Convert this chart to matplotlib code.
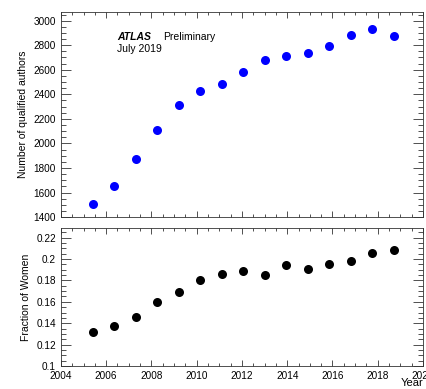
import matplotlib
matplotlib.use("Agg")
import matplotlib.pyplot as plt
from matplotlib.ticker import MultipleLocator, FuncFormatter

plt.rcParams['font.family'] = ['Liberation Sans', 'DejaVu Sans']

# data
years = [2005.4, 2006.35, 2007.3, 2008.25, 2009.2, 2010.15, 2011.1, 2012.05,
         2013.0, 2013.95, 2014.9, 2015.85, 2016.8, 2017.75, 2018.7]
authors = [1510, 1655, 1875, 2110, 2315, 2425, 2485, 2585,
           2680, 2710, 2740, 2795, 2885, 2930, 2878]
women = [0.132, 0.137, 0.146, 0.160, 0.169, 0.180, 0.186, 0.189,
         0.185, 0.194, 0.191, 0.195, 0.198, 0.206, 0.208]

fig = plt.figure(figsize=(4.26, 3.89), dpi=100)
ax1 = fig.add_axes([0.143, 0.442, 0.85, 0.527])
ax2 = fig.add_axes([0.143, 0.059, 0.85, 0.355])

def style(ax, ymaj, ymin):
    ax.set_xlim(2004, 2020)
    ax.xaxis.set_major_locator(MultipleLocator(2))
    ax.xaxis.set_minor_locator(MultipleLocator(0.5))
    ax.yaxis.set_major_locator(MultipleLocator(ymaj))
    ax.yaxis.set_minor_locator(MultipleLocator(ymin))
    ax.tick_params(axis='both', which='both', direction='in', top=True, right=True,
                   labelsize=7.2, width=0.6, color='#333333')
    ax.tick_params(axis='y', which='major', length=7.2)
    ax.tick_params(axis='y', which='minor', length=3.6)
    ax.tick_params(axis='x', which='major', length=4.3)
    ax.tick_params(axis='x', which='minor', length=2.2)
    for s in ax.spines.values():
        s.set_linewidth(0.6)
        s.set_color('#333333')

style(ax1, 200, 50)
ax1.set_ylim(1400, 3070)
ax1.tick_params(axis='x', labelbottom=False)
ax1.plot(years, authors, 'o', color='#0000ff', markersize=6.5, markeredgewidth=0)
ax1.set_ylabel("Number of qualified authors", fontsize=7.5, labelpad=4)
ax1.text(0.155, 0.878, "ATLAS", transform=ax1.transAxes, fontsize=7.5,
         fontweight='bold', fontstyle='italic', va='center')
ax1.text(0.282, 0.878, "Preliminary", transform=ax1.transAxes, fontsize=7.5,
         va='center')
ax1.text(0.155, 0.822, "July 2019", transform=ax1.transAxes, fontsize=7.5,
         va='center')

style(ax2, 0.02, 0.005)
ax2.set_ylim(0.1, 0.229)
ax2.yaxis.set_major_formatter(FuncFormatter(lambda v, p: "%g" % round(v, 3)))
ax2.plot(years, women, 'o', color='black', markersize=6.5, markeredgewidth=0)
ax2.set_ylabel("Fraction of Women", fontsize=7.5, labelpad=4)
fig.text(0.993, 0.003, "Year", ha='right', va='bottom', fontsize=8)

fig.savefig("out.png", dpi=100)
